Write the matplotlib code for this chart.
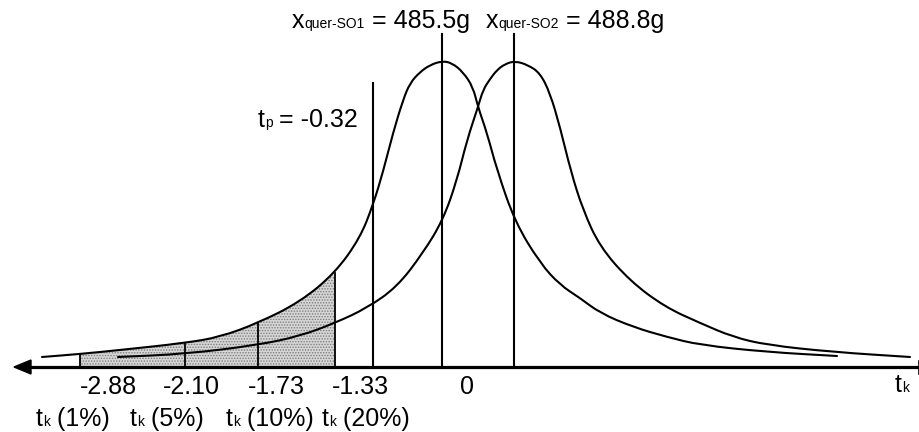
"""Two t-distributions with critical values (schematic)."""
import matplotlib
matplotlib.use('Agg')

import matplotlib.pyplot as plt
from matplotlib.path import Path
from matplotlib.patches import PathPatch
import numpy as np

FONT = 'Liberation Sans'

# curve traces (x along the t-axis, y = height in picture units, axis at 367)
so1_x = [42, 80, 120, 185, 220, 258, 300, 335, 360, 373, 383, 393, 403, 410,
         420, 430, 442, 452, 463, 473, 478, 487, 497, 515, 540, 560, 580, 600,
         633, 667, 700, 767, 837]
so1_y = [357, 354, 350, 343, 337, 323, 302, 273, 238, 205, 172, 133, 100, 83,
         72, 65, 61, 63, 72, 87, 107, 133, 170, 222, 263, 285, 298, 313,
         327, 337, 345, 352, 356]

so2_x = [118, 185, 258, 300, 335, 367, 397, 423, 443, 457, 467, 478, 483, 490,
         497, 505, 515, 528, 540, 550, 560, 571, 583, 600, 630, 665, 700, 733,
         767, 833, 910]
so2_y = [357, 354, 345, 336, 323, 308, 287, 253, 220, 180, 140, 107, 90, 79,
         70, 64, 61, 65, 73, 93, 127, 172, 210, 247, 281, 307, 323, 337,
         345, 352, 357]

axis_y = 367
tk_pos = [80, 185, 258, 335]
tk_labels = ['-2.88', '-2.10', '-1.73', '-1.33']
tk_levels = ['1%', '5%', '10%', '20%']
tp_pos = 373
mean_pos = [442, 514]
mean_labels = [('quer-SO1', '485.5g'), ('quer-SO2', '488.8g')]

plt.rcParams['hatch.linewidth'] = 0.7

fig = plt.figure(figsize=(9.2, 4.32), dpi=100)
ax = fig.add_axes([0, 0, 1, 1])
ax.set_xlim(0, 920)
ax.set_ylim(432, 0)
ax.axis('off')

lw = 1.5


def smooth_curve(xs, ys):
    # quadratic bezier through the midpoints of the traced points
    pts = np.column_stack([xs, ys]).astype(float)
    mids = (pts[:-1] + pts[1:]) / 2
    verts = [pts[0], mids[0]]
    codes = [Path.MOVETO, Path.LINETO]
    for i in range(1, len(pts) - 1):
        verts += [pts[i], mids[i]]
        codes += [Path.CURVE3, Path.CURVE3]
    verts.append(pts[-1])
    codes.append(Path.LINETO)
    ax.add_patch(PathPatch(Path(verts, codes), fill=False, color='black',
                           lw=lw, zorder=3, capstyle='round'))


# shaded rejection region under the first curve
sx = np.array(so1_x)
sy = np.array(so1_y)
m = (sx >= tk_pos[0]) & (sx <= tk_pos[-1])
ax.fill_between(sx[m], sy[m], axis_y, facecolor='#d6d6d6', edgecolor='#7c7c7c',
                hatch='......', lw=0, zorder=1)

smooth_curve(so1_x, so1_y)
smooth_curve(so2_x, so2_y)

# axis with arrow to the left
ax.plot([26, 919], [axis_y, axis_y], color='black', lw=2.3, zorder=4)
ax.fill([14, 31, 31], [axis_y, axis_y - 7, axis_y + 7], color='black', zorder=4)
ax.plot([919, 919], [axis_y - 6, axis_y + 7], color='black', lw=1.2)

# critical value lines
for p in tk_pos:
    top = np.interp(p, so1_x, so1_y)
    ax.plot([p, p], [top, axis_y], color='black', lw=1.3, zorder=3)
ax.plot([tp_pos, tp_pos], [83, axis_y], color='black', lw=lw, zorder=3)
for p in mean_pos:
    ax.plot([p, p], [34, axis_y], color='black', lw=lw, zorder=3)

renderer = fig.canvas.get_renderer()


def rich(x, y, parts):
    for s, size in parts:
        t = ax.text(x, y, s, fontsize=size, va='baseline', ha='left',
                    family=FONT)
        x += t.get_window_extent(renderer=renderer).width


big, small = 18, 10

rich(292, 28, [('x', big), (mean_labels[0][0], small),
               (' = ' + mean_labels[0][1], big)])
rich(486, 28, [('x', big), (mean_labels[1][0], small),
               (' = ' + mean_labels[1][1], big)])
rich(258, 127, [('t', big), ('p', small), (' = -0.32', big)])

for x, s in zip([80, 163, 248, 332], tk_labels):
    ax.text(x, 394, s, fontsize=big, va='baseline', family=FONT)
ax.text(460, 394, '0', fontsize=big, va='baseline', family=FONT)
rich(895, 392, [('t', big), ('k', small)])

for x, s in zip([36, 130, 226, 322], tk_levels):
    rich(x, 426, [('t', big), ('k', small), (' (' + s + ')', big)])

fig.savefig('out.png', dpi=100)
plt.close(fig)
